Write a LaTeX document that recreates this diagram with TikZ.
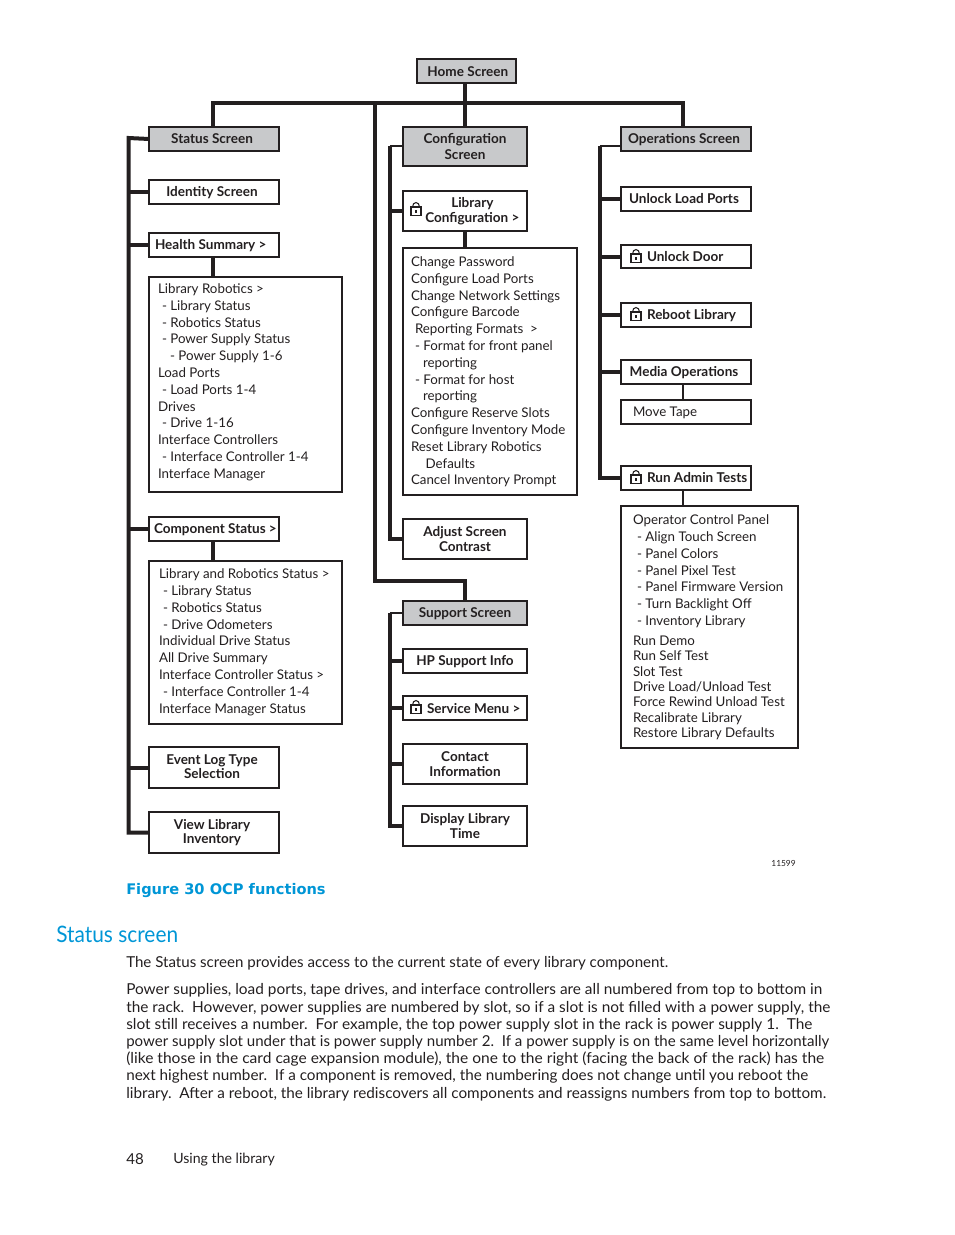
\documentclass[tikz,border=0pt]{standalone}
\usepackage{graphicx}
\usepackage{fontspec}
\setmainfont{Lato}
\newfontfamily\capfont{DejaVu Sans}
\newfontfamily\headfont[FakeStretch=0.92]{Lato}
\definecolor{ink}{HTML}{231F20}
\definecolor{hpblue}{HTML}{0096D6}
\definecolor{headgray}{HTML}{C8C9CB}
\newcommand{\bx}[7]{%
  \pgfmathsetmacro\cx{(#2+#4)/2}\pgfmathsetmacro\cy{(#3+#5)/2}%
  \pgfmathsetmacro\bw{(#4-#2)*0.75}\pgfmathsetmacro\bh{(#5-#3)*0.75}%
  \node[#6,minimum width=\bw pt,minimum height=\bh pt] (#1) at (\cx,\cy) {#7};}
% list text: pad (pt) from left edge, raise (pt), rows
\newcommand{\lst}[3]{\makebox[\bw pt][l]{\hspace*{#1pt}\raisebox{#2pt}[0pt][0pt]{\begin{tabular}[c]{@{}l@{}}#3\end{tabular}}}}
% label nudged down a little
\newcommand{\dn}[1]{\raisebox{-0.7pt}[\height][\depth]{#1}}
% label with fixed left padding (pt)
\newcommand{\lab}[2]{\makebox[\bw pt][l]{\hspace*{#1pt}#2}}
% centred label nudged to the left
\newcommand{\lf}[1]{#1\hspace*{3pt}}
\newcommand{\ind}{\hspace*{3pt}}
\newcommand{\indd}{\hspace*{9pt}}
% paragraph line set to a given width
\newcommand{\fit}[2]{\resizebox{#1pt}{\height}{#2}}
\newcommand{\lockicon}[2]{%
  \draw[ink,line width=0.8pt] (#1-3.5,#2-2) arc[start angle=180,end angle=360,x radius=3.5,y radius=4.5];
  \draw[ink,line width=0.9pt,fill=white] (#1-5,#2-2) rectangle (#1+5,#2+6.5);
  \fill[ink] (#1-0.7,#2+0.5) rectangle (#1+0.7,#2+3.5);}
\tikzset{
  x=0.75pt,y=-0.75pt,
  boxbase/.style={draw=ink,line width=0.9pt,inner sep=0pt,text=ink,outer sep=0pt},
  headbox/.style={boxbase,fill=headgray,align=center,font=\fontsize{10.15}{11.3}\selectfont\bfseries},
  labelbox/.style={boxbase,fill=white,align=center,font=\fontsize{10.15}{11.3}\selectfont\bfseries},
  listbox/.style={boxbase,fill=white,font=\fontsize{10}{12.6}\selectfont},
  bus/.style={draw=ink,line width=3pt,line cap=butt},
  thinbus/.style={draw=ink,line width=2.2pt},
  para/.style={anchor=north west,inner sep=0pt,align=left,text=ink,font=\fontsize{11.3}{12.9}\selectfont},
}
\begin{document}
\begin{tikzpicture}
\useasboundingbox (0,0) rectangle (954,1235);
% column heads
\bx{home}{417}{59}{516}{83}{headbox}{\dn{\hspace*{2pt}Home Screen}}
\bx{status}{149}{127}{279}{151}{headbox}{\lf{Status Screen}}
\bx{config}{403}{127}{527}{166}{headbox}{Configuration\\Screen}
\bx{oper}{621}{127}{751}{151}{headbox}{\dn{\lf{Operations Screen}}}
\bx{support}{403}{601}{527}{625}{headbox}{\dn{Support Screen}}
% status column
\bx{identity}{149}{180}{279}{204}{labelbox}{\dn{\lf{Identity Screen}}}
\bx{health}{149}{233}{279}{257}{labelbox}{\dn{\lab{4.5}{Health Summary >}}}
\bx{healthlist}{149}{277}{342}{492}{listbox}{\lst{6.75}{-1}{Library Robotics >\\
\ind- Library Status\\
\ind- Robotics Status\\
\ind- Power Supply Status\\
\indd- Power Supply 1-6\\
Load Ports\\
\ind- Load Ports 1-4\\
Drives\\
\ind- Drive 1-16\\
Interface Controllers\\
\ind- Interface Controller 1-4\\
Interface Manager}}
\bx{component}{149}{517}{279}{541}{labelbox}{\dn{\lab{3.75}{Component Status >}}}
\bx{complist}{149}{561}{342}{724}{listbox}{\lst{7.5}{-2.5}{Library and Robotics Status >\\
\ind- Library Status\\
\ind- Robotics Status\\
\ind- Drive Odometers\\
Individual Drive Status\\
All Drive Summary\\
Interface Controller Status >\\
\ind- Interface Controller 1-4\\
Interface Manager Status}}
\bx{eventlog}{149}{747}{279}{788}{labelbox}{\dn{\begin{tabular}{@{}c@{}}\lf{Event Log Type}\\[-1.3pt]\lf{Selection}\end{tabular}}}
\bx{viewinv}{149}{812}{279}{853}{labelbox}{\dn{\begin{tabular}{@{}c@{}}\lf{View Library}\\[-1.3pt]\lf{Inventory}\end{tabular}}}
% configuration column
\bx{libconf}{403}{191}{527}{231}{labelbox}{\hspace*{11pt}Library\\\hspace*{11pt}Configuration >}
\bx{conflist}{403}{248}{577}{495}{listbox}{\lst{6}{-3.2}{Change Password\\
Configure Load Ports\\
Change Network Settings\\
Configure Barcode\\
\ind Reporting Formats\ \ >\\
\ind- Format for front panel\\
\indd reporting\\
\ind- Format for host\\
\indd reporting\\
Configure Reserve Slots\\
Configure Inventory Mode\\
Reset Library Robotics\\
\hspace*{11pt}Defaults\\
Cancel Inventory Prompt}}
\bx{adjust}{403}{519}{527}{559}{labelbox}{Adjust Screen\\Contrast}
% support column
\bx{hpinfo}{403}{649}{527}{673}{labelbox}{\dn{HP Support Info}}
\bx{service}{403}{696}{527}{720}{labelbox}{\dn{\lab{18}{Service Menu >}}}
\bx{contact}{403}{744}{527}{784}{labelbox}{Contact\\Information}
\bx{display}{403}{806}{527}{846}{labelbox}{Display Library\\Time}
% operations column
\bx{unlockports}{621}{187}{751}{211}{labelbox}{\lf{Unlock Load Ports}}
\bx{unlockdoor}{621}{245}{751}{268}{labelbox}{\lab{19.5}{Unlock Door}}
\bx{reboot}{621}{303}{751}{327}{labelbox}{\dn{\lab{19.5}{Reboot Library}}}
\bx{media}{621}{360}{751}{384}{labelbox}{\dn{\lf{Media Operations}}}
\bx{movetape}{621}{400}{751}{424}{listbox}{\lst{9}{-3.5}{Move Tape}}
\bx{admin}{621}{466}{751}{490}{labelbox}{\lab{19.5}{Run Admin Tests}}
\bx{adminlist}{621}{506}{798}{748}{listbox}{\lst{9}{-3}{Operator Control Panel\\
\ind- Align Touch Screen\\
\ind- Panel Colors\\
\ind- Panel Pixel Test\\
\ind- Panel Firmware Version\\
\ind- Turn Backlight Off\\
\ind- Inventory Library\\[2.4pt]
Run Demo\\[-1.1pt]
Run Self Test\\[-1.1pt]
Slot Test\\[-1.1pt]
Drive Load/Unload Test\\[-1.1pt]
Force Rewind Unload Test\\[-1.1pt]
Recalibrate Library\\[-1.1pt]
Restore Library Defaults}}
% locks
\lockicon{416}{209}\lockicon{416}{707}\lockicon{636}{256}\lockicon{636}{314}\lockicon{636}{477}
% bus anchors
\coordinate (top) at (config.north |- 0,103);
\coordinate (busmain) at (375,103);
\coordinate (drop) at (375,581);
\coordinate (busS) at (128.5,138);
\coordinate (busC) at (390,146);
\coordinate (busP) at (390,613);
\coordinate (busO) at (599.5,146);
\coordinate (statusup) at (213,127);
\coordinate (operup) at (683,127);
% main tree
\draw[bus] (statusup) -- (statusup |- top) -- (operup |- top) -- (operup);
\draw[bus] (home.south -| top) -- (config.north);
\draw[bus] (busmain) -- (drop) -| (support.north);
% status branches
\draw[bus] (status.west) -- (busS) |- (viewinv.west);
\foreach \n in {identity,health,component,eventlog}{\draw[bus] (\n.west) -- (\n.west -| busS);}
\draw[bus] (health.south -| statusup) -- (healthlist.north -| statusup);
\draw[bus] (component.south -| statusup) -- (complist.north -| statusup);
% configuration branches
\draw[thinbus] (config.west |- busC) -- (busC);
\draw[bus] (busC) |- (adjust.west);
\draw[bus] (libconf.west) -- (libconf.west -| busC);
\draw[bus] (libconf.south -| top) -- (conflist.north -| top);
% support branches
\draw[thinbus] (support.west) -- (busP);
\draw[bus] (busP) |- (display.west);
\foreach \n in {hpinfo,service,contact}{\draw[bus] (\n.west) -- (\n.west -| busP);}
% operations branches
\draw[thinbus] (oper.west |- busO) -- (busO);
\draw[bus] (busO) |- (admin.west);
\foreach \n in {unlockports,unlockdoor,reboot,media}{\draw[bus] (\n.west) -- (\n.west -| busO);}
\draw[thinbus] (media.south -| operup) -- (movetape.north -| operup);
\draw[thinbus] (admin.south -| operup) -- (adminlist.north -| operup);
% page text
\node[anchor=east,inner sep=0pt,text=ink,font=\fontsize{6.3}{7}\selectfont] (fignum) at (796,863) {11599};
\node[anchor=west,inner sep=0pt,text=hpblue,font=\capfont\bfseries\fontsize{10.96}{13}\selectfont] (caption) at (126,890.5) {Figure 30 OCP functions};
\node[anchor=west,inner sep=0pt,text=hpblue,font=\headfont\fontsize{17}{20}\selectfont] (heading) at (56,934) {Status screen};
\node[para] (p1) at (126,956.5) {\fit{406.5}{The Status screen provides access to the current state of every library component.}};
\node[para] (p2) at (126,983.5) {\fit{522}{Power supplies, load ports, tape drives, and interface controllers are all numbered from top to bottom in}\\
\fit{528}{the rack.\ \ However, power supplies are numbered by slot, so if a slot is not filled with a power supply, the}\\
\fit{514.5}{slot still receives a number.\ \ For example, the top power supply slot in the rack is power supply 1.\ \ The}\\
\fit{527.25}{power supply slot under that is power supply number 2.\ \ If a power supply is on the same level horizontally}\\
\fit{523.5}{(like those in the card cage expansion module), the one to the right (facing the back of the rack) has the}\\
\fit{511.5}{next highest number.\ \ If a component is removed, the numbering does not change until you reboot the}\\
\fit{525}{library.\ \ After a reboot, the library rediscovers all components and reassigns numbers from top to bottom.}};
\node[anchor=west,inner sep=0pt,text=ink,font=\fontsize{11.3}{13}\selectfont] (pageno) at (126,1159) {48};
\node[anchor=west,inner sep=0pt,text=ink,font=\fontsize{10.6}{13}\selectfont] (foot) at (173,1160) {Using the library};
\end{tikzpicture}
\end{document}
